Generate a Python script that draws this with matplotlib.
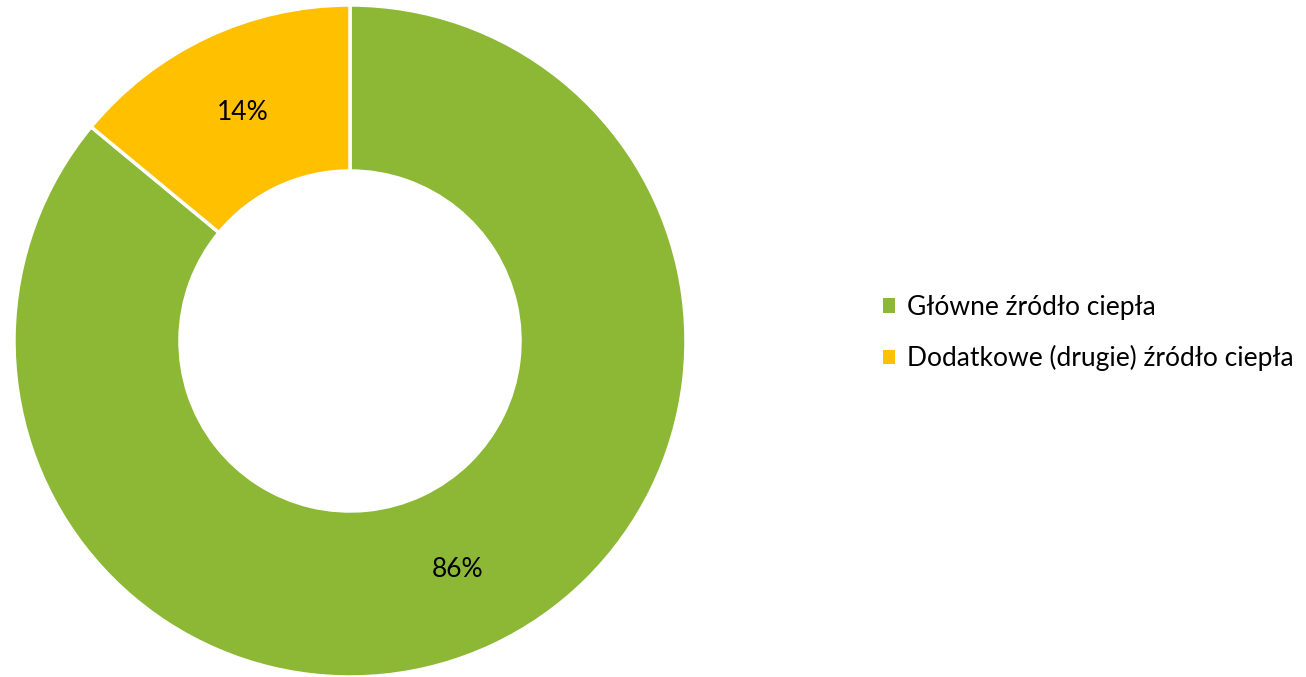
import matplotlib
matplotlib.use("Agg")
import matplotlib.pyplot as plt

labels = ["Główne źródło ciepła", "Dodatkowe (drugie) źródło ciepła"]
values = [86, 14]
colors = ["#8CB836", "#FFC000"]

plt.rcParams['font.family'] = ['Lato', 'DejaVu Sans']

W, H = 1306, 677
fig = plt.figure(figsize=(W / 100, H / 100), dpi=100)
cx, cy, R = 350, 341, 336
ax = fig.add_axes([(cx - R) / W, (H - cy - R) / H, 2 * R / W, 2 * R / H])

wedges, texts, autotexts = ax.pie(
    values, colors=colors, startangle=90, counterclock=False,
    autopct=lambda p: f"{p:.0f}%", pctdistance=0.753, radius=1.0,
    wedgeprops=dict(width=0.494, edgecolor="white", linewidth=2.5),
    textprops=dict(fontsize=19, color="#000000"))
ax.set_xlim(-1, 1)
ax.set_ylim(-1, 1)
ax.set_aspect("equal")
ax.axis("off")

leg = fig.legend(wedges, labels, loc="center left",
                 bbox_to_anchor=(883 / W, (H - 333) / H),
                 frameon=False, fontsize=19, handlelength=0.45, handleheight=0.45,
                 handletextpad=0.45, labelspacing=0.95, borderpad=0, borderaxespad=0)
for h in leg.legend_handles:
    h.set_edgecolor("none")

fig.savefig("out.png", dpi=100)
